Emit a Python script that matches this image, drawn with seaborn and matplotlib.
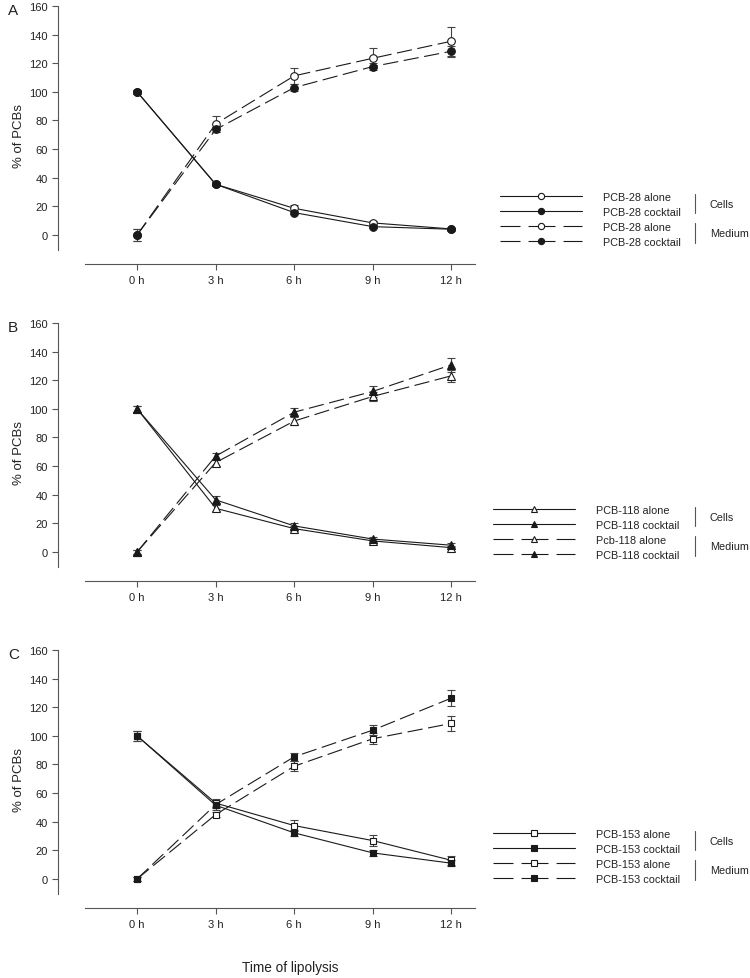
import numpy as np
import pandas as pd
import matplotlib
matplotlib.use("Agg")
import matplotlib.pyplot as plt
from matplotlib.lines import Line2D
import seaborn as sns

sns.set_style("ticks")
plt.rcParams['font.family'] = ['Liberation Sans', 'DejaVu Sans']
plt.rcParams['lines.scale_dashes'] = False

# data
times = [0, 3, 6, 9, 12]
tick_labels = ['0 h', '3 h', '6 h', '9 h', '12 h']
y_ticks = [0, 20, 40, 60, 80, 100, 120, 140, 160]

# panel A - PCB-28
a_cells_alone = [100, 35.4, 18.6, 8.4, 4.2]
a_cells_cocktail = [100, 35.4, 15.6, 5.8, 4.0]
a_medium_alone = [0, 77.6, 111.2, 123.5, 135.4]
a_medium_cocktail = [0, 73.7, 103.0, 117.7, 128.4]
a_err_cells_alone = [1.5, 1.5, 2.0, 1.5, 1.0]
a_err_cells_cocktail = [1.5, 1.5, 1.0, 1.0, 1.0]
a_err_medium_alone = [4.0, 5.5, 5.6, 7.0, 10.0]
a_err_medium_cocktail = [4.4, 2.0, 2.3, 2.3, 3.7]
a_labels = ['PCB-28 alone', 'PCB-28 cocktail', 'PCB-28 alone', 'PCB-28 cocktail']

# panel B - PCB-118
b_cells_alone = [100, 30.5, 16.3, 7.7, 3.0]
b_cells_cocktail = [100, 36.4, 18.2, 9.0, 4.7]
b_medium_alone = [0, 62.5, 91.5, 108.7, 123.1]
b_medium_cocktail = [0, 67.0, 97.7, 112.2, 130.8]
b_err_cells_alone = [2.0, 2.0, 1.5, 1.5, 1.0]
b_err_cells_cocktail = [2.0, 2.5, 2.0, 1.5, 1.5]
b_err_medium_alone = [1.5, 2.5, 2.5, 3.3, 4.4]
b_err_medium_cocktail = [1.5, 2.5, 2.8, 3.8, 4.9]
b_labels = ['PCB-118 alone', 'PCB-118 cocktail', 'Pcb-118 alone', 'PCB-118 cocktail']

# panel C - PCB-153
c_cells_alone = [100, 53.0, 37.3, 26.8, 13.0]
c_cells_cocktail = [100, 51.5, 32.2, 18.2, 11.0]
c_medium_alone = [0, 45.0, 78.8, 98.0, 108.7]
c_medium_cocktail = [0, 52.0, 85.4, 104.0, 126.4]
c_err_cells_alone = [3.5, 3.0, 4.0, 4.0, 3.0]
c_err_cells_cocktail = [3.5, 3.0, 2.0, 2.0, 2.0]
c_err_medium_alone = [1.5, 2.0, 3.5, 3.7, 5.0]
c_err_medium_cocktail = [1.5, 2.5, 2.8, 3.3, 5.4]
c_labels = ['PCB-153 alone', 'PCB-153 cocktail', 'PCB-153 alone', 'PCB-153 cocktail']

panels = [
    ('A', 'o', 5.5, [a_cells_alone, a_cells_cocktail, a_medium_alone, a_medium_cocktail],
     [a_err_cells_alone, a_err_cells_cocktail, a_err_medium_alone, a_err_medium_cocktail], a_labels),
    ('B', '^', 6, [b_cells_alone, b_cells_cocktail, b_medium_alone, b_medium_cocktail],
     [b_err_cells_alone, b_err_cells_cocktail, b_err_medium_alone, b_err_medium_cocktail], b_labels),
    ('C', 's', 5, [c_cells_alone, c_cells_cocktail, c_medium_alone, c_medium_cocktail],
     [c_err_cells_alone, c_err_cells_cocktail, c_err_medium_alone, c_err_medium_cocktail], c_labels),
]

W, H = 750, 979
fig = plt.figure(figsize=(W / 100, H / 100), dpi=100)

# panel top pixel rows, legend first row and left x
tops = [7, 324, 651]
legend_rows = [198, 511, 835]
legend_x = [500, 493, 493]

line_col = '#1a1a1a'
axis_col = '#555555'
text_col = '#222222'
dash_plot = (0, (11, 4))
dash_leg = (0, (14.4, 5.8, 19.4, 5.8, 14.4, 60))

for i, (letter, mk, ms, series, errs, labels) in enumerate(panels):
    top = tops[i]
    ax = fig.add_axes([58 / W, 1 - (top + 258) / H, 417 / W, 258 / H])
    fills = ['white', line_col, 'white', line_col]
    styles = ['-', '-', dash_plot, dash_plot]
    for vals, err, fc, ls in zip(series, errs, fills, styles):
        ax.errorbar(times, vals, yerr=err, fmt='none', ecolor='#444444',
                    elinewidth=0.8, capsize=3, capthick=0.8, zorder=2)
        sns.lineplot(x=times, y=vals, ax=ax, color=line_col, linewidth=0.8,
                     linestyle=ls, marker=mk, markersize=ms, markerfacecolor=fc,
                     markeredgecolor=line_col, markeredgewidth=0.8,
                     errorbar=None, zorder=3)

    ax.set_xlim(-3.02, 12.9)
    ax.set_ylim(-20.3, 160)
    ax.set_xticks(times)
    ax.set_xticklabels(tick_labels)
    ax.set_yticks(y_ticks)
    ax.spines['top'].set_visible(False)
    ax.spines['right'].set_visible(False)
    ax.spines['left'].set_bounds(-10.3, 160)
    ax.spines['bottom'].set_bounds(-2.0, 12.9)
    for s in ['left', 'bottom']:
        ax.spines[s].set_color(axis_col)
        ax.spines[s].set_linewidth(0.8)
    ax.tick_params(axis='both', colors=axis_col, labelcolor=text_col,
                   labelsize=8, length=4, width=0.8)
    ax.tick_params(axis='x', pad=4)
    ax.set_ylabel('% of PCBs', fontsize=9.5, color=text_col)
    ax.yaxis.set_label_coords(-0.08, 0.5)
    ax.set_xlabel('')

    fig.text(8 / W, 1 - (top - 3) / H, letter, fontsize=11, color=text_col,
             ha='left', va='top')

    # legend
    handles = []
    for fc, ls in zip(fills, ['-', '-', dash_leg, dash_leg]):
        handles.append(Line2D([], [], color=line_col, linewidth=0.8, linestyle=ls,
                              marker=mk, markersize=ms - 1, markerfacecolor=fc,
                              markeredgecolor=line_col, markeredgewidth=0.8))
    row0 = legend_rows[i]
    ax.legend(handles, labels, loc='upper left',
              bbox_to_anchor=(legend_x[i] / W, 1 - (row0 - 5) / H),
              bbox_transform=fig.transFigure, frameon=False, fontsize=7.8,
              handlelength=7.6, handletextpad=1.9, labelspacing=0.45,
              borderpad=0, borderaxespad=0, labelcolor=text_col)

    # Cells / Medium brackets
    bx = 695 / W
    fig.add_artist(Line2D([bx, bx], [1 - (row0 - 3) / H, 1 - (row0 + 16) / H],
                          color=axis_col, linewidth=0.8))
    fig.add_artist(Line2D([bx, bx], [1 - (row0 + 26) / H, 1 - (row0 + 46) / H],
                          color=axis_col, linewidth=0.8))
    fig.text(710 / W, 1 - (row0 + 7) / H, 'Cells', fontsize=7.8,
             color=text_col, va='center')
    fig.text(710 / W, 1 - (row0 + 36) / H, 'Medium', fontsize=7.8,
             color=text_col, va='center')

fig.text(290 / W, 1 - 968 / H, 'Time of lipolysis', fontsize=9.8,
         color=text_col, ha='center', va='center')

fig.savefig('out.png', dpi=100)
